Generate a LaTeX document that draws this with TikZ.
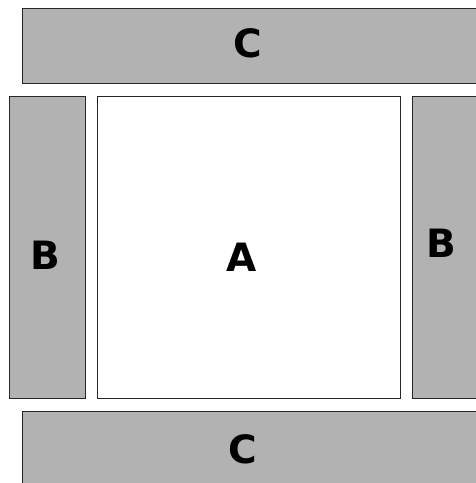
\documentclass[tikz,border=0pt]{standalone}
\usepackage{fontspec}
\setmainfont{DejaVu Sans}
\begin{document}
\begin{tikzpicture}[x=1pt,y=-1pt,
  panel/.style={draw=black!85,line width=1pt,fill=black!30},
  center/.style={draw=black!85,line width=1pt,fill=white},
  lbl/.style={anchor=base,inner sep=0pt,font=\fontsize{39}{39}\selectfont\bfseries}]
\useasboundingbox (0,0) rectangle (475,483);
\draw[panel] (22,8.5) rectangle (480,83.5);
\draw[panel] (9.5,96.5) rectangle (85,398);
\draw[center] (97.5,96.5) rectangle (400,398);
\draw[panel] (412.5,96.5) rectangle (480,398);
\draw[panel] (22,411.5) rectangle (480,490);
\node[lbl] (ctop) at (248,57) {C};
\node[lbl] (bleft) at (45.5,269.5) {B};
\node[lbl] (a) at (242,271.5) {A};
\node[lbl] (bright) at (441,257.5) {B};
\node[lbl] (cbot) at (243,463) {C};
\end{tikzpicture}
\end{document}
